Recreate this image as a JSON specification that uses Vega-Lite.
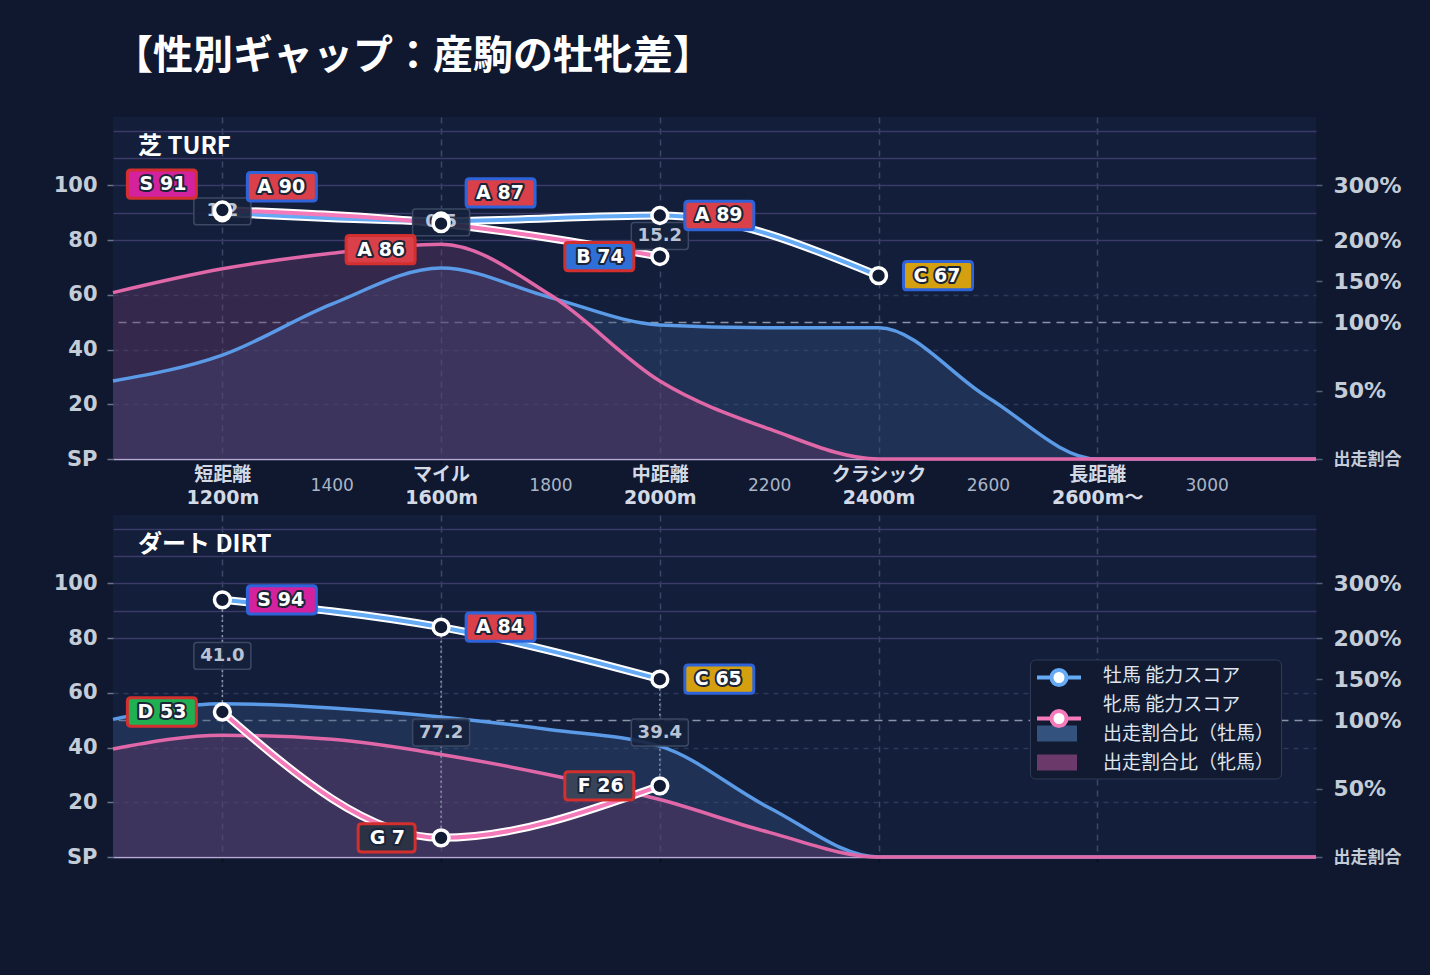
{
  "$schema": "https://vega.github.io/schema/vega-lite/v6.json",
  "background": "#0f182f",
  "padding": {"left": 53, "top": 37, "right": 30, "bottom": 152},
  "autosize": {"type": "pad"},
  "title": {
    "text": "【性別ギャップ：産駒の牡牝差】",
    "anchor": "start",
    "frame": "group",
    "font": "Noto Sans CJK JP",
    "fontSize": 40,
    "fontWeight": "bold",
    "color": "#ffffff",
    "baseline": "alphabetic",
    "offset": 8
  },
  "config": {
    "view": {"stroke": null, "fill": "#131e3a"}
  },
  "datasets": {
    "scores": [
      {"surface": "芝", "pos": 1, "sex": "牡", "series": "牡馬 能力スコア", "score": 90, "grade": "A", "gap": 1.2},
      {"surface": "芝", "pos": 3, "sex": "牡", "series": "牡馬 能力スコア", "score": 87, "grade": "A", "gap": 0.5},
      {"surface": "芝", "pos": 5, "sex": "牡", "series": "牡馬 能力スコア", "score": 89, "grade": "A", "gap": 15.2},
      {"surface": "芝", "pos": 7, "sex": "牡", "series": "牡馬 能力スコア", "score": 67, "grade": "C", "gap": null},
      {"surface": "芝", "pos": 1, "sex": "牝", "series": "牝馬 能力スコア", "score": 91, "grade": "S", "gap": 1.2},
      {"surface": "芝", "pos": 3, "sex": "牝", "series": "牝馬 能力スコア", "score": 86, "grade": "A", "gap": 0.5},
      {"surface": "芝", "pos": 5, "sex": "牝", "series": "牝馬 能力スコア", "score": 74, "grade": "B", "gap": 15.2},
      {"surface": "ダート", "pos": 1, "sex": "牡", "series": "牡馬 能力スコア", "score": 94, "grade": "S", "gap": 41.0},
      {"surface": "ダート", "pos": 3, "sex": "牡", "series": "牡馬 能力スコア", "score": 84, "grade": "A", "gap": 77.2},
      {"surface": "ダート", "pos": 5, "sex": "牡", "series": "牡馬 能力スコア", "score": 65, "grade": "C", "gap": 39.4},
      {"surface": "ダート", "pos": 1, "sex": "牝", "series": "牝馬 能力スコア", "score": 53, "grade": "D", "gap": 41.0},
      {"surface": "ダート", "pos": 3, "sex": "牝", "series": "牝馬 能力スコア", "score": 7, "grade": "G", "gap": 77.2},
      {"surface": "ダート", "pos": 5, "sex": "牝", "series": "牝馬 能力スコア", "score": 26, "grade": "F", "gap": 39.4}
    ],
    "ratios": [
      {"surface": "芝", "series": "出走割合比（牡馬）", "pos": 0, "ratio": 57},
      {"surface": "芝", "series": "出走割合比（牡馬）", "pos": 1, "ratio": 76},
      {"surface": "芝", "series": "出走割合比（牡馬）", "pos": 2, "ratio": 122},
      {"surface": "芝", "series": "出走割合比（牡馬）", "pos": 3, "ratio": 166},
      {"surface": "芝", "series": "出走割合比（牡馬）", "pos": 4, "ratio": 130},
      {"surface": "芝", "series": "出走割合比（牡馬）", "pos": 5, "ratio": 98},
      {"surface": "芝", "series": "出走割合比（牡馬）", "pos": 6, "ratio": 96},
      {"surface": "芝", "series": "出走割合比（牡馬）", "pos": 7, "ratio": 96},
      {"surface": "芝", "series": "出走割合比（牡馬）", "pos": 8, "ratio": 45},
      {"surface": "芝", "series": "出走割合比（牡馬）", "pos": 9, "ratio": 0},
      {"surface": "芝", "series": "出走割合比（牡馬）", "pos": 10, "ratio": 0},
      {"surface": "芝", "series": "出走割合比（牡馬）", "pos": 11, "ratio": 0},
      {"surface": "芝", "series": "出走割合比（牝馬）", "pos": 0, "ratio": 136},
      {"surface": "芝", "series": "出走割合比（牝馬）", "pos": 1, "ratio": 165},
      {"surface": "芝", "series": "出走割合比（牝馬）", "pos": 2, "ratio": 184},
      {"surface": "芝", "series": "出走割合比（牝馬）", "pos": 3, "ratio": 195},
      {"surface": "芝", "series": "出走割合比（牝馬）", "pos": 4, "ratio": 133},
      {"surface": "芝", "series": "出走割合比（牝馬）", "pos": 5, "ratio": 57},
      {"surface": "芝", "series": "出走割合比（牝馬）", "pos": 6, "ratio": 22},
      {"surface": "芝", "series": "出走割合比（牝馬）", "pos": 7, "ratio": 0},
      {"surface": "芝", "series": "出走割合比（牝馬）", "pos": 8, "ratio": 0},
      {"surface": "芝", "series": "出走割合比（牝馬）", "pos": 9, "ratio": 0},
      {"surface": "芝", "series": "出走割合比（牝馬）", "pos": 10, "ratio": 0},
      {"surface": "芝", "series": "出走割合比（牝馬）", "pos": 11, "ratio": 0},
      {"surface": "ダート", "series": "出走割合比（牡馬）", "pos": 0, "ratio": 101},
      {"surface": "ダート", "series": "出走割合比（牡馬）", "pos": 1, "ratio": 120},
      {"surface": "ダート", "series": "出走割合比（牡馬）", "pos": 2, "ratio": 115},
      {"surface": "ダート", "series": "出走割合比（牡馬）", "pos": 3, "ratio": 104},
      {"surface": "ダート", "series": "出走割合比（牡馬）", "pos": 4, "ratio": 93},
      {"surface": "ダート", "series": "出走割合比（牡馬）", "pos": 5, "ratio": 81},
      {"surface": "ダート", "series": "出走割合比（牡馬）", "pos": 6, "ratio": 36},
      {"surface": "ダート", "series": "出走割合比（牡馬）", "pos": 7, "ratio": 0},
      {"surface": "ダート", "series": "出走割合比（牡馬）", "pos": 8, "ratio": 0},
      {"surface": "ダート", "series": "出走割合比（牡馬）", "pos": 9, "ratio": 0},
      {"surface": "ダート", "series": "出走割合比（牡馬）", "pos": 10, "ratio": 0},
      {"surface": "ダート", "series": "出走割合比（牡馬）", "pos": 11, "ratio": 0},
      {"surface": "ダート", "series": "出走割合比（牝馬）", "pos": 0, "ratio": 79},
      {"surface": "ダート", "series": "出走割合比（牝馬）", "pos": 1, "ratio": 89},
      {"surface": "ダート", "series": "出走割合比（牝馬）", "pos": 2, "ratio": 86},
      {"surface": "ダート", "series": "出走割合比（牝馬）", "pos": 3, "ratio": 75},
      {"surface": "ダート", "series": "出走割合比（牝馬）", "pos": 4, "ratio": 60},
      {"surface": "ダート", "series": "出走割合比（牝馬）", "pos": 5, "ratio": 42},
      {"surface": "ダート", "series": "出走割合比（牝馬）", "pos": 6, "ratio": 18},
      {"surface": "ダート", "series": "出走割合比（牝馬）", "pos": 7, "ratio": 0},
      {"surface": "ダート", "series": "出走割合比（牝馬）", "pos": 8, "ratio": 0},
      {"surface": "ダート", "series": "出走割合比（牝馬）", "pos": 9, "ratio": 0},
      {"surface": "ダート", "series": "出走割合比（牝馬）", "pos": 10, "ratio": 0},
      {"surface": "ダート", "series": "出走割合比（牝馬）", "pos": 11, "ratio": 0}
    ]
  },
  "spacing": 56,
  "bounds": "flush",
  "vconcat": [
    {
      "width": 1203,
      "height": 342,
      "title": {"text": "芝 TURF", "anchor": "start", "frame": "group", "font": "Noto Sans CJK JP", "fontSize": 24, "fontWeight": "bold", "color": "#ffffff", "baseline": "bottom", "offset": -66, "dx": 25},
      "encoding": {
        "x": {
          "field": "pos", "type": "quantitative",
          "scale": {"domain": [0, 11], "nice": false, "zero": false},
          "axis": {
            "values": [1, 2, 3, 4, 5, 6, 7, 8, 9, 10],
            "title": null,
            "labelExpr": "[' ', ['短距離', '1200m'], '1400', ['マイル', '1600m'], '1800', ['中距離', '2000m'], '2200', ['クラシック', '2400m'], '2600', ['長距離', '2600m〜'], '3000'][datum.value]",
            "labelFont": "DejaVu Sans, Noto Sans CJK JP",
            "labelFontSize": {"condition": {"test": "datum.value % 2 === 1", "value": 19}, "value": 17},
            "labelFontWeight": {"condition": {"test": "datum.value % 2 === 1", "value": "bold"}, "value": "normal"},
            "labelColor": {"condition": {"test": "datum.value % 2 === 1", "value": "#d3dae6"}, "value": "#aab5c7"},
            "labelBaseline": {"condition": {"test": "datum.value % 2 === 1", "value": "middle"}, "value": "line-top"},
            "labelLineHeight": 23,
            "labelPadding": 10.5,
            "labelOverlap": false,
            "labelFlush": false,
            "tickSize": 5,
            "tickWidth": 1.5,
            "tickColor": {"condition": {"test": "datum.value % 2 === 1", "value": "#0a0f1e"}, "value": "transparent"},
            "domain": true,
            "domainColor": "#b6aad6",
            "domainWidth": 1.5,
            "grid": true,
            "gridColor": {"condition": {"test": "datum.value % 2 === 1", "value": "#3a4766"}, "value": "transparent"},
            "gridDash": [6, 5],
            "gridWidth": 1.5
          }
        }
      },
      "resolve": {"scale": {"y": "independent"}},
      "layer": [
        {
          "data": {"name": "ratios"},
          "transform": [{"filter": "datum.surface === '芝'"}],
          "encoding": {
            "y": {
              "field": "ratio", "type": "quantitative", "stack": null,
              "scale": {"domain": [0, 100, 200, 300, 425], "range": [342, 205.2, 123.1, 68.4, 0], "nice": false, "zero": false},
              "axis": {
                "orient": "right",
                "values": [0, 50, 100, 150, 200, 250, 300, 350, 400],
                "title": null,
                "labelExpr": "datum.value === 0 ? '出走割合' : ((datum.value === 250 || datum.value > 300) ? '' : datum.value + '%')",
                "labelFont": "DejaVu Sans, Noto Sans CJK JP",
                "labelFontSize": {"condition": {"test": "datum.value === 0", "value": 17}, "value": 22},
                "labelFontWeight": "bold",
                "labelColor": "#c4ccd8",
                "labelPadding": 11,
                "labelOverlap": false,
                "labelBaseline": "middle",
                "tickSize": 6,
                "tickWidth": 1.5,
                "tickColor": {"condition": {"test": "datum.value === 250 || datum.value > 300", "value": "transparent"}, "value": "#56607a"},
                "domain": false,
                "grid": true,
                "gridColor": {"condition": [{"test": "datum.value === 100", "value": "#8a93a9"}, {"test": "datum.value >= 200", "value": "#3b3a68"}], "value": "transparent"},
                "gridDash": {"condition": {"test": "datum.value === 100", "value": [8, 6]}, "value": []},
                "gridWidth": 1.5
              }
            }
          },
          "layer": [
            {
              "mark": {"type": "area", "interpolate": "monotone", "fillOpacity": 0.38},
              "encoding": {
                "detail": {"field": "series"},
                "fill": {"condition": {"test": "datum.series === '出走割合比（牡馬）'", "value": "#34527e"}, "value": "#6b3a6a"}
              }
            },
            {
              "mark": {"type": "line", "interpolate": "monotone", "strokeWidth": 3.5},
              "encoding": {
                "detail": {"field": "series"},
                "stroke": {"condition": {"test": "datum.series === '出走割合比（牡馬）'", "value": "#5a9ae6"}, "value": "#e067a8"}
              }
            }
          ]
        },
        {
          "data": {"name": "scores"},
          "transform": [
            {"filter": "datum.surface === '芝'"},
            {"calculate": "datum.grade + ' ' + datum.score", "as": "label"}
          ],
          "encoding": {
            "y": {
              "field": "score", "type": "quantitative",
              "scale": {"domain": [0, 125], "nice": false, "zero": false},
              "axis": {
                "orient": "left",
                "values": [0, 20, 40, 60, 80, 100],
                "title": null,
                "labelExpr": "datum.value === 0 ? 'SP' : datum.label",
                "labelFont": "DejaVu Sans",
                "labelFontSize": 21,
                "labelFontWeight": "bold",
                "labelColor": "#c4ccd8",
                "labelPadding": 10,
                "labelBaseline": "middle",
                "tickSize": 6,
                "tickWidth": 1.5,
                "tickColor": "#6a7488",
                "domain": false,
                "grid": true,
                "gridColor": {"condition": {"test": "datum.value > 0 && datum.value < 80", "value": "#2b3a58"}, "value": "transparent"},
                "gridDash": [5, 5],
                "gridWidth": 1.5
              }
            }
          },
          "layer": [
            {
              "transform": [
                {"filter": "isValid(datum.gap)"},
                {"aggregate": [{"op": "min", "field": "score", "as": "score"}, {"op": "max", "field": "score", "as": "hi"}], "groupby": ["pos", "gap"]}
              ],
              "mark": {"type": "rule", "stroke": "#8c96ab", "strokeWidth": 1.5, "strokeDash": [2, 3]},
              "encoding": {"y2": {"field": "hi"}}
            },
            {
              "mark": {"type": "line", "interpolate": "monotone", "stroke": "#ffffff", "strokeWidth": 8, "strokeCap": "round"},
              "encoding": {"detail": {"field": "sex"}}
            },
            {
              "mark": {"type": "line", "interpolate": "monotone", "strokeWidth": 4, "strokeCap": "round"},
              "encoding": {
                "detail": {"field": "sex"},
                "stroke": {"condition": {"test": "datum.sex === '牡'", "value": "#64aaf5"}, "value": "#f57ab9"}
              }
            },
            {
              "transform": [
                {"filter": "isValid(datum.gap)"},
                {"aggregate": [{"op": "mean", "field": "score", "as": "score"}], "groupby": ["pos", "gap", "surface"]}
              ],
              "layer": [
                {
                  "mark": {"type": "point", "shape": "M-0.9,-0.47H0.9Q1,-0.47,1,-0.37V0.37Q1,0.47,0.9,0.47H-0.9Q-1,0.47,-1,0.37V-0.37Q-1,-0.47,-0.9,-0.47Z", "size": 3249, "filled": true, "fill": "#16213c", "fillOpacity": 0.9, "stroke": "#3d4964", "strokeWidth": 1.5, "opacity": 1}
                },
                {
                  "mark": {"type": "text", "font": "DejaVu Sans", "fontSize": 18, "fontWeight": "bold", "color": "#b9c3d5", "baseline": "middle"},
                  "encoding": {"text": {"field": "gap", "type": "quantitative", "format": ".1f"}}
                }
              ]
            },
            {
              "mark": {"type": "point", "shape": "circle", "size": 250, "filled": true, "fill": "#111b34", "stroke": "#ffffff", "strokeWidth": 3.5, "opacity": 1}
            },
            {
              "mark": {
                "type": "point", "size": 4761, "filled": true, "opacity": 1, "strokeWidth": 3,
                "xOffset": {"expr": "datum.sex === '牡' ? 25 : -26"},
                "yOffset": {"expr": "datum.pos === 1 ? -26 : (datum.pos === 3 ? (datum.sex === '牡' ? -28 : 26) : 0)"}
              },
              "encoding": {
                "shape": {
                  "condition": [
                    {"test": "datum.sex === '牡'", "value": "M0.1,-0.41H1.9Q2,-0.41,2,-0.31V0.31Q2,0.41,1.9,0.41H0.1Q0,0.41,0,0.31V-0.31Q0,-0.41,0.1,-0.41Z"},
                    {"test": "datum.score < 10", "value": "M-0.1,-0.41H-1.55Q-1.65,-0.41,-1.65,-0.31V0.31Q-1.65,0.41,-1.55,0.41H-0.1Q0,0.41,0,0.31V-0.31Q0,-0.41,-0.1,-0.41Z"}
                  ],
                  "value": "M-0.1,-0.41H-1.9Q-2,-0.41,-2,-0.31V0.31Q-2,0.41,-1.9,0.41H-0.1Q0,0.41,0,0.31V-0.31Q0,-0.41,-0.1,-0.41Z"
                },
                "fill": {
                  "condition": [
                    {"test": "datum.grade === 'S'", "value": "#d4229e"},
                    {"test": "datum.grade === 'A'", "value": "#d9404a"},
                    {"test": "datum.grade === 'B'", "value": "#2f6fd8"},
                    {"test": "datum.grade === 'C'", "value": "#d4a010"},
                    {"test": "datum.grade === 'D'", "value": "#1fb052"},
                    {"test": "datum.grade === 'F'", "value": "#3a4458"}
                  ],
                  "value": "#2a3244"
                },
                "stroke": {"condition": {"test": "datum.sex === '牡'", "value": "#2f63d9"}, "value": "#d42f2f"}
              }
            },
            {
              "mark": {
                "type": "text", "font": "DejaVu Sans", "fontSize": 19, "fontWeight": "bold", "baseline": "middle",
                "stroke": "#1c2438", "strokeWidth": 4, "strokeJoin": "round", "fill": "#1c2438",
                "align": {"expr": "datum.sex === '牡' ? 'left' : 'right'"},
                "dx": {"expr": "datum.sex === '牡' ? 35 : -36"},
                "dy": {"expr": "datum.pos === 1 ? -26 : (datum.pos === 3 ? (datum.sex === '牡' ? -28 : 26) : 0)"}
              },
              "encoding": {"text": {"field": "label"}}
            },
            {
              "mark": {
                "type": "text", "font": "DejaVu Sans", "fontSize": 19, "fontWeight": "bold", "baseline": "middle", "fill": "#ffffff",
                "align": {"expr": "datum.sex === '牡' ? 'left' : 'right'"},
                "dx": {"expr": "datum.sex === '牡' ? 35 : -36"},
                "dy": {"expr": "datum.pos === 1 ? -26 : (datum.pos === 3 ? (datum.sex === '牡' ? -28 : 26) : 0)"}
              },
              "encoding": {"text": {"field": "label"}}
            }
          ]
        }
      ]
    },
    {
      "width": 1203,
      "height": 342,
      "title": {"text": "ダート DIRT", "anchor": "start", "frame": "group", "font": "Noto Sans CJK JP", "fontSize": 24, "fontWeight": "bold", "color": "#ffffff", "baseline": "bottom", "offset": -66, "dx": 25},
      "encoding": {
        "x": {
          "field": "pos", "type": "quantitative",
          "scale": {"domain": [0, 11], "nice": false, "zero": false},
          "axis": {
            "values": [1, 2, 3, 4, 5, 6, 7, 8, 9, 10],
            "title": null,
            "labels": false,
            "tickSize": 5,
            "tickWidth": 1.5,
            "tickColor": {"condition": {"test": "datum.value % 2 === 1", "value": "#0a0f1e"}, "value": "transparent"},
            "domain": true,
            "domainColor": "#b6aad6",
            "domainWidth": 1.5,
            "grid": true,
            "gridColor": {"condition": {"test": "datum.value % 2 === 1", "value": "#3a4766"}, "value": "transparent"},
            "gridDash": [6, 5],
            "gridWidth": 1.5
          }
        }
      },
      "resolve": {"scale": {"y": "independent"}},
      "layer": [
        {
          "data": {"name": "ratios"},
          "transform": [{"filter": "datum.surface === 'ダート'"}],
          "encoding": {
            "y": {
              "field": "ratio", "type": "quantitative", "stack": null,
              "scale": {"domain": [0, 100, 200, 300, 425], "range": [342, 205.2, 123.1, 68.4, 0], "nice": false, "zero": false},
              "axis": {
                "orient": "right",
                "values": [0, 50, 100, 150, 200, 250, 300, 350, 400],
                "title": null,
                "labelExpr": "datum.value === 0 ? '出走割合' : ((datum.value === 250 || datum.value > 300) ? '' : datum.value + '%')",
                "labelFont": "DejaVu Sans, Noto Sans CJK JP",
                "labelFontSize": {"condition": {"test": "datum.value === 0", "value": 17}, "value": 22},
                "labelFontWeight": "bold",
                "labelColor": "#c4ccd8",
                "labelPadding": 11,
                "labelOverlap": false,
                "labelBaseline": "middle",
                "tickSize": 6,
                "tickWidth": 1.5,
                "tickColor": {"condition": {"test": "datum.value === 250 || datum.value > 300", "value": "transparent"}, "value": "#56607a"},
                "domain": false,
                "grid": true,
                "gridColor": {"condition": [{"test": "datum.value === 100", "value": "#8a93a9"}, {"test": "datum.value >= 200", "value": "#3b3a68"}], "value": "transparent"},
                "gridDash": {"condition": {"test": "datum.value === 100", "value": [8, 6]}, "value": []},
                "gridWidth": 1.5
              }
            }
          },
          "layer": [
            {
              "mark": {"type": "area", "interpolate": "monotone", "fillOpacity": 0.38},
              "encoding": {
                "fill": {
                  "field": "series", "type": "nominal",
                  "scale": {"domain": ["牡馬 能力スコア", "牝馬 能力スコア", "出走割合比（牡馬）", "出走割合比（牝馬）"], "range": ["transparent", "transparent", "#34527e", "#6b3a6a"]},
                  "legend": {
                    "orient": "none", "legendX": 917, "legendY": 542.5, "title": null, "zindex": 1,
                    "padding": 6, "rowPadding": 9, "symbolSize": 400, "symbolStrokeWidth": 0, "symbolOffset": 11,
                    "symbolType": "M-2,-0.8H2V0.8H-2Z", "symbolOpacity": 1,
                    "labelOffset": 36, "labelFont": "Noto Sans CJK JP", "labelFontSize": 19, "labelColor": "#dfe5ef", "labelLimit": 400,
                    "cornerRadius": 5, "fillColor": "#111a31", "strokeColor": "#2f3b56"
                  }
                }
              }
            },
            {
              "mark": {"type": "line", "interpolate": "monotone", "strokeWidth": 3.5},
              "encoding": {
                "detail": {"field": "series"},
                "stroke": {"condition": {"test": "datum.series === '出走割合比（牡馬）'", "value": "#5a9ae6"}, "value": "#e067a8"}
              }
            }
          ]
        },
        {
          "data": {"name": "scores"},
          "transform": [
            {"filter": "datum.surface === 'ダート'"},
            {"calculate": "datum.grade + ' ' + datum.score", "as": "label"}
          ],
          "encoding": {
            "y": {
              "field": "score", "type": "quantitative",
              "scale": {"domain": [0, 125], "nice": false, "zero": false},
              "axis": {
                "orient": "left",
                "values": [0, 20, 40, 60, 80, 100],
                "title": null,
                "labelExpr": "datum.value === 0 ? 'SP' : datum.label",
                "labelFont": "DejaVu Sans",
                "labelFontSize": 21,
                "labelFontWeight": "bold",
                "labelColor": "#c4ccd8",
                "labelPadding": 10,
                "labelBaseline": "middle",
                "tickSize": 6,
                "tickWidth": 1.5,
                "tickColor": "#6a7488",
                "domain": false,
                "grid": true,
                "gridColor": {"condition": {"test": "datum.value > 0 && datum.value < 80", "value": "#2b3a58"}, "value": "transparent"},
                "gridDash": [5, 5],
                "gridWidth": 1.5
              }
            }
          },
          "layer": [
            {
              "transform": [
                {"filter": "isValid(datum.gap)"},
                {"aggregate": [{"op": "min", "field": "score", "as": "score"}, {"op": "max", "field": "score", "as": "hi"}], "groupby": ["pos", "gap"]}
              ],
              "mark": {"type": "rule", "stroke": "#8c96ab", "strokeWidth": 1.5, "strokeDash": [2, 3]},
              "encoding": {"y2": {"field": "hi"}}
            },
            {
              "mark": {"type": "line", "interpolate": "monotone", "stroke": "#ffffff", "strokeWidth": 8, "strokeCap": "round"},
              "encoding": {"detail": {"field": "sex"}}
            },
            {
              "mark": {"type": "line", "interpolate": "monotone", "strokeWidth": 4, "strokeCap": "round"},
              "encoding": {
                "detail": {"field": "series"},
                "stroke": {
                  "field": "series", "type": "nominal",
                  "scale": {"domain": ["牡馬 能力スコア", "牝馬 能力スコア"], "range": ["#64aaf5", "#f57ab9"]},
                  "legend": {
                    "orient": "none", "legendX": 917, "legendY": 542.5, "title": null, "zindex": 2,
                    "padding": 6, "rowPadding": 9, "symbolSize": 400, "symbolStrokeWidth": 4, "symbolOffset": 11,
                    "symbolType": "M-2.2,0H-0.75M0.75,0H2.2M0.75,0A0.75,0.75,0,1,1,-0.75,0A0.75,0.75,0,1,1,0.75,0Z",
                    "symbolFillColor": "#ffffff", "symbolOpacity": 1,
                    "labelExpr": "''",
                    "labelOffset": 34, "labelFont": "Noto Sans CJK JP", "labelFontSize": 19, "labelColor": "transparent", "labelLimit": 400
                  }
                }
              }
            },
            {
              "transform": [
                {"filter": "isValid(datum.gap)"},
                {"aggregate": [{"op": "mean", "field": "score", "as": "score"}], "groupby": ["pos", "gap", "surface"]}
              ],
              "layer": [
                {
                  "mark": {"type": "point", "shape": "M-0.9,-0.47H0.9Q1,-0.47,1,-0.37V0.37Q1,0.47,0.9,0.47H-0.9Q-1,0.47,-1,0.37V-0.37Q-1,-0.47,-0.9,-0.47Z", "size": 3249, "filled": true, "fill": "#16213c", "fillOpacity": 0.9, "stroke": "#3d4964", "strokeWidth": 1.5, "opacity": 1}
                },
                {
                  "mark": {"type": "text", "font": "DejaVu Sans", "fontSize": 18, "fontWeight": "bold", "color": "#b9c3d5", "baseline": "middle"},
                  "encoding": {"text": {"field": "gap", "type": "quantitative", "format": ".1f"}}
                }
              ]
            },
            {
              "mark": {"type": "point", "shape": "circle", "size": 250, "filled": true, "fill": "#111b34", "stroke": "#ffffff", "strokeWidth": 3.5, "opacity": 1}
            },
            {
              "mark": {
                "type": "point", "size": 4761, "filled": true, "opacity": 1, "strokeWidth": 3,
                "xOffset": {"expr": "datum.sex === '牡' ? 25 : -26"}
              },
              "encoding": {
                "shape": {
                  "condition": [
                    {"test": "datum.sex === '牡'", "value": "M0.1,-0.41H1.9Q2,-0.41,2,-0.31V0.31Q2,0.41,1.9,0.41H0.1Q0,0.41,0,0.31V-0.31Q0,-0.41,0.1,-0.41Z"},
                    {"test": "datum.score < 10", "value": "M-0.1,-0.41H-1.55Q-1.65,-0.41,-1.65,-0.31V0.31Q-1.65,0.41,-1.55,0.41H-0.1Q0,0.41,0,0.31V-0.31Q0,-0.41,-0.1,-0.41Z"}
                  ],
                  "value": "M-0.1,-0.41H-1.9Q-2,-0.41,-2,-0.31V0.31Q-2,0.41,-1.9,0.41H-0.1Q0,0.41,0,0.31V-0.31Q0,-0.41,-0.1,-0.41Z"
                },
                "fill": {
                  "condition": [
                    {"test": "datum.grade === 'S'", "value": "#d4229e"},
                    {"test": "datum.grade === 'A'", "value": "#d9404a"},
                    {"test": "datum.grade === 'B'", "value": "#2f6fd8"},
                    {"test": "datum.grade === 'C'", "value": "#d4a010"},
                    {"test": "datum.grade === 'D'", "value": "#1fb052"},
                    {"test": "datum.grade === 'F'", "value": "#3a4458"}
                  ],
                  "value": "#2a3244"
                },
                "stroke": {"condition": {"test": "datum.sex === '牡'", "value": "#2f63d9"}, "value": "#d42f2f"}
              }
            },
            {
              "mark": {
                "type": "text", "font": "DejaVu Sans", "fontSize": 19, "fontWeight": "bold", "baseline": "middle",
                "stroke": "#1c2438", "strokeWidth": 4, "strokeJoin": "round", "fill": "#1c2438",
                "align": {"expr": "datum.sex === '牡' ? 'left' : 'right'"},
                "dx": {"expr": "datum.sex === '牡' ? 35 : -36"}
              },
              "encoding": {"text": {"field": "label"}}
            },
            {
              "mark": {
                "type": "text", "font": "DejaVu Sans", "fontSize": 19, "fontWeight": "bold", "baseline": "middle", "fill": "#ffffff",
                "align": {"expr": "datum.sex === '牡' ? 'left' : 'right'"},
                "dx": {"expr": "datum.sex === '牡' ? 35 : -36"}
              },
              "encoding": {"text": {"field": "label"}}
            }
          ]
        }
      ]
    }
  ]
}
